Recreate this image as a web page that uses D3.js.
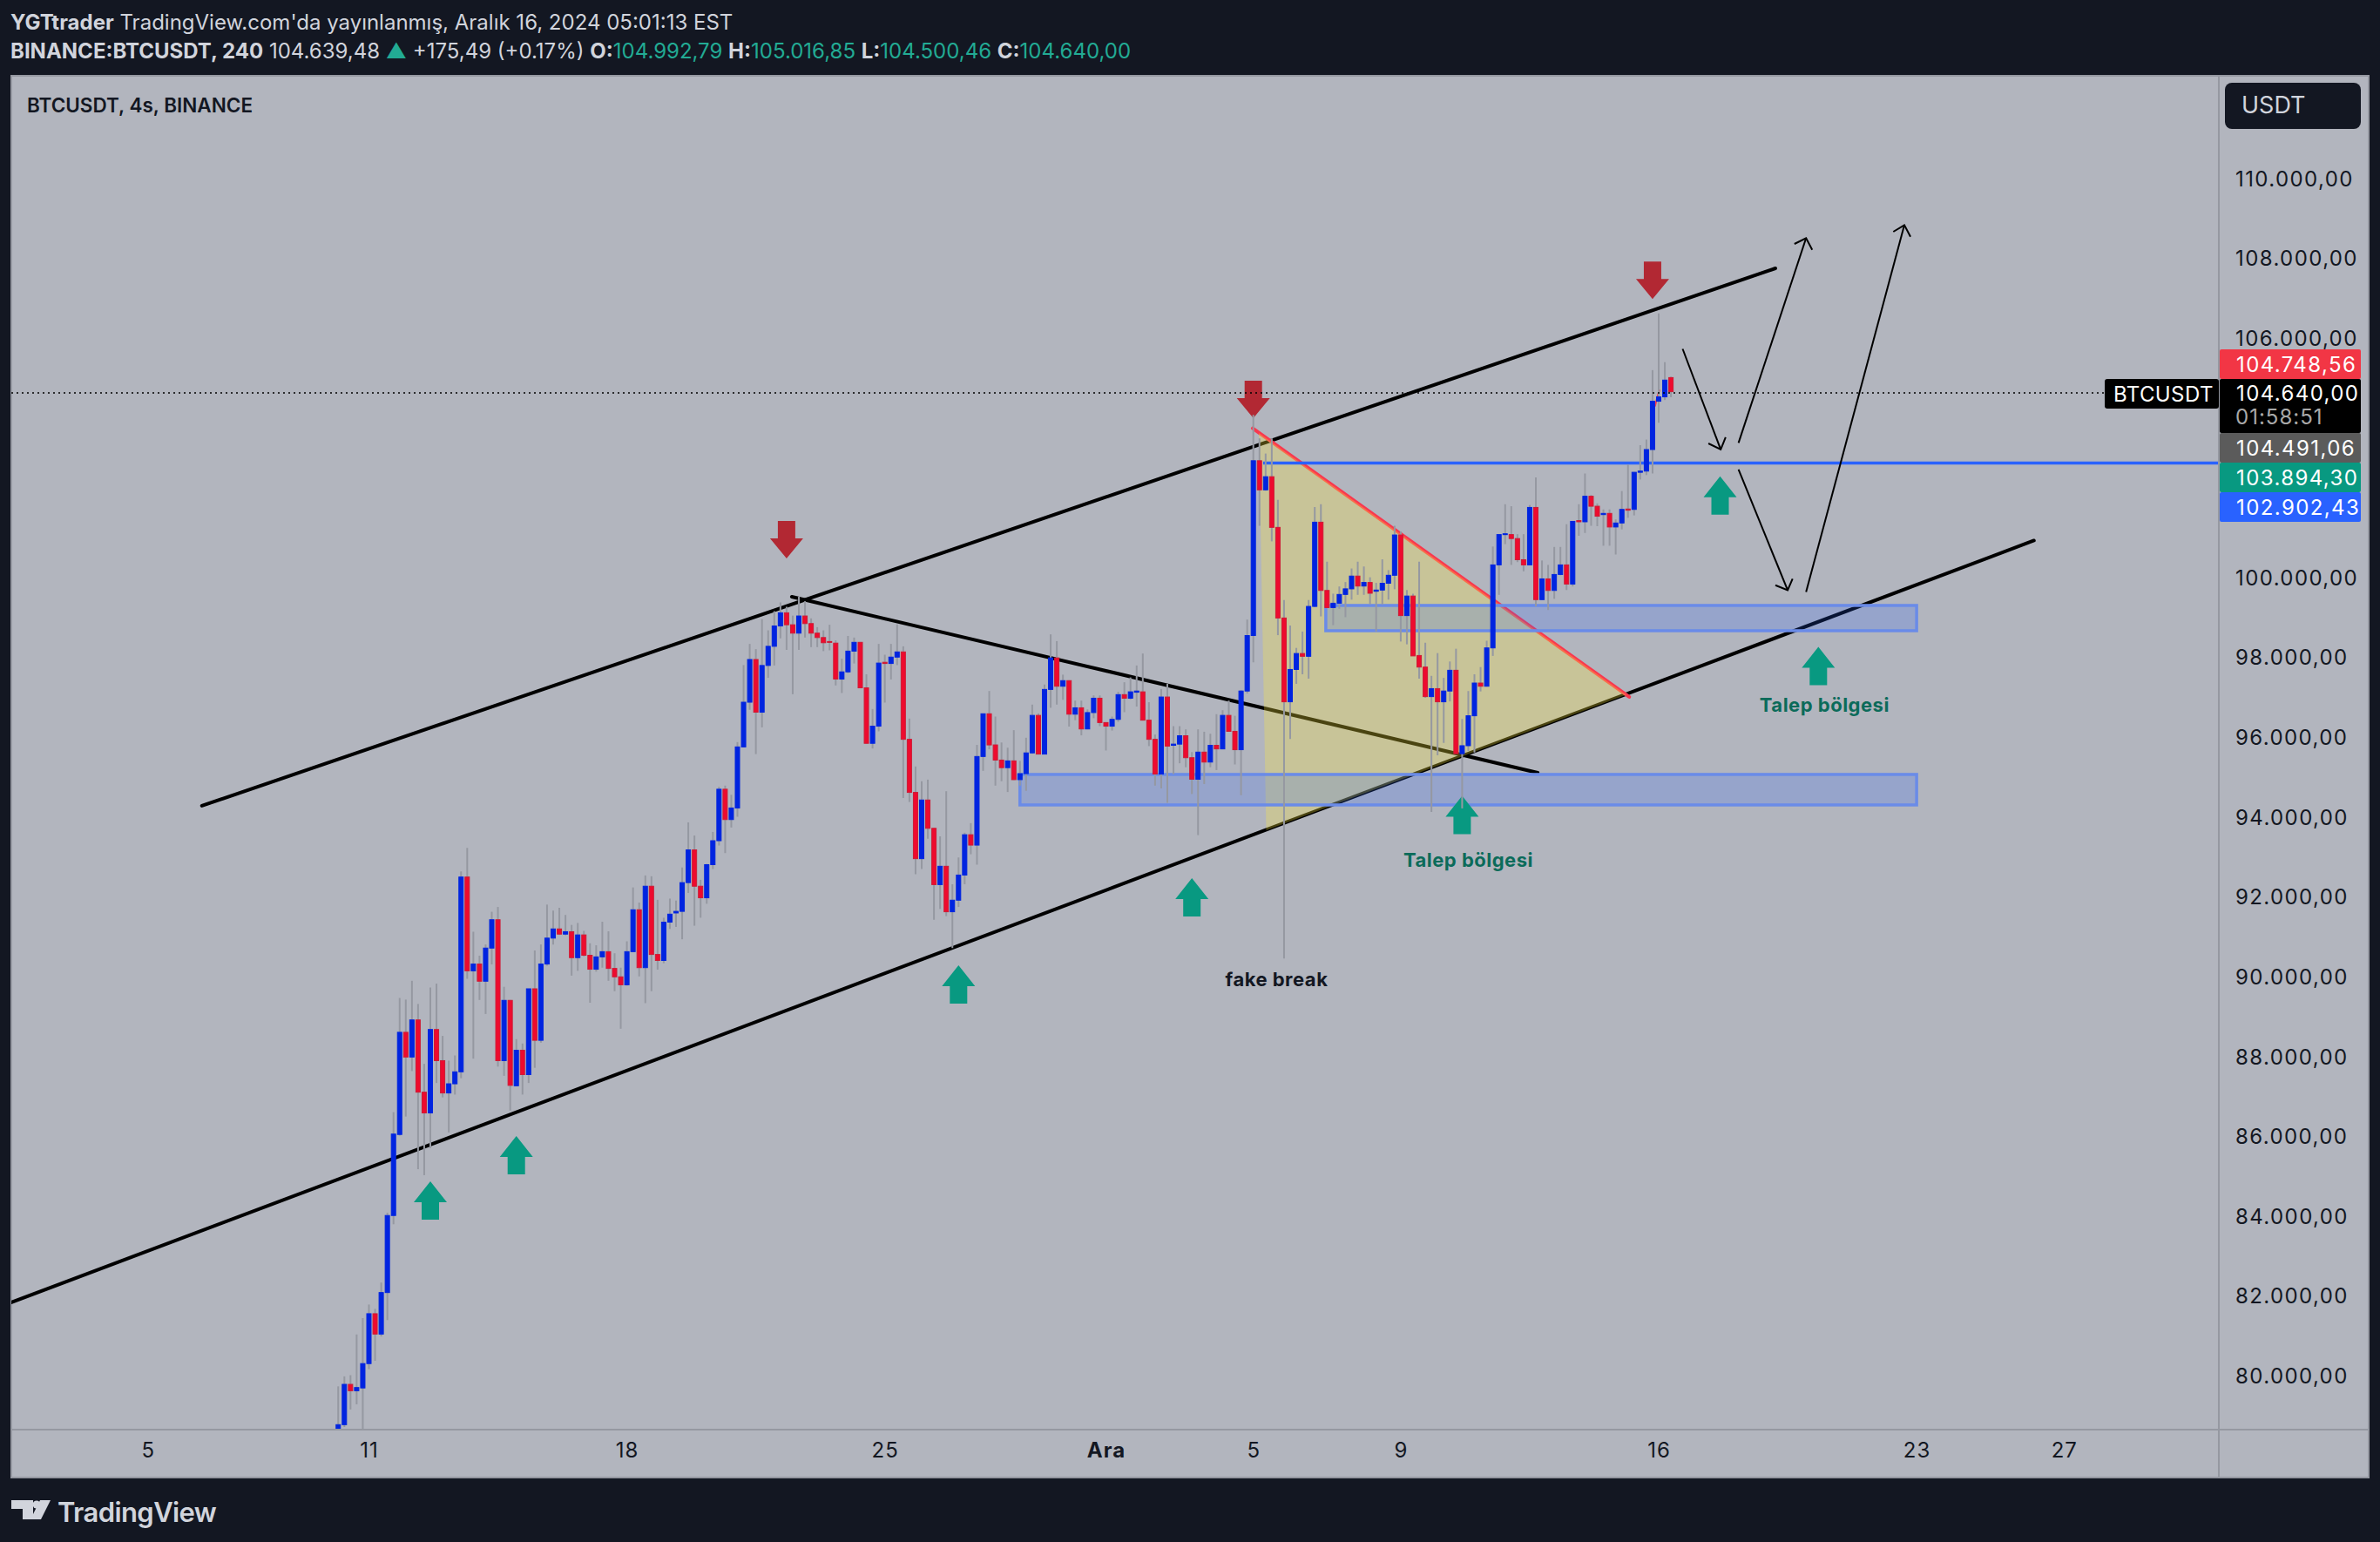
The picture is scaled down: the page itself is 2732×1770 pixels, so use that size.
<!DOCTYPE html>
<html>
<head>
<meta charset="utf-8">
<script src="https://cdn.jsdelivr.net/npm/d3@7/dist/d3.min.js"></script>
<style>
  html, body { margin: 0; padding: 0; background: #131722; }
  svg { display: block; font-family: Inter, "Noto Sans", sans-serif; }
</style>
</head>
<body>
<svg id="chart" width="2732" height="1770"></svg>
<script>
// 4h candles, one value per bar
const opens = [
  78500,78760,79770,79610,79680,80290,81540,81030,82070,84000,
  86030,88590,87970,88900,87090,86570,88660,87880,87070,87300,
  87600,92480,90130,90300,89870,90700,91410,87880,89390,87250,
  88140,87530,89680,88390,90300,90950,91180,91050,91110,90460,
  91030,90520,90170,90480,90610,90190,89980,89780,90610,91660,
  90210,92250,90540,90390,91350,91580,91620,92340,93160,92250,
  91960,92790,93390,94680,93920,94210,95740,96860,97930,96610,
  97780,98260,98770,99100,98800,98590,99020,98830,98590,98480,
  98380,98340,97440,97620,98140,98360,97220,95830,96260,97860,
  97830,97990,98120,95930,94600,92940,94410,93700,92290,92750,
  91610,91900,92530,93540,93280,95500,96570,95790,95410,95220,
  95390,94920,95070,95590,96530,95560,97180,97970,97260,97400,
  96560,96720,96190,96600,96960,96350,96260,96430,97050,96960,
  97110,97120,96410,95930,95060,96990,95780,95810,96020,95470,
  94930,95610,95360,95780,95690,96530,96130,95670,97140,98530,
  102910,102180,102510,101240,98970,96870,97680,98080,98010,99260,
  101370,99660,99230,99340,99560,99700,100020,99770,99860,99640,
  99670,99840,100040,101050,99030,99520,98030,97740,97000,97200,
  96870,97140,97660,95570,95770,96520,97340,97260,98220,100300,
  101060,101060,100960,100430,100300,101740,99430,99950,99660,100060,
  100300,99820,101410,101380,102020,101770,101560,101590,101250,101350,
  101700,101690,102620,102650,103190,104400,104510,104992.79
];
const highs = [
  79720,79970,80000,81020,81430,81770,81660,82320,84070,86590,
  89450,89410,89880,89300,87800,89710,89810,88500,87880,88010,
  92620,93210,91110,90510,90790,91610,91730,89730,89400,88420,
  88310,89680,90640,90790,91790,91640,91710,91530,91280,91330,
  91130,90820,90770,91360,91120,90570,90210,90870,92220,91840,
  92520,92500,91910,91460,91940,91890,92720,93850,93520,92410,
  92810,93610,94740,94770,94540,95860,97790,98320,98190,98940,
  98660,99140,99360,99250,99030,99500,99390,98960,98740,98660,
  98800,98410,97950,98520,98480,98370,97560,96690,98320,98050,
  98320,98810,98260,96450,95250,94880,94920,93710,93500,94630,
  92300,92970,93590,93830,95790,96580,97140,96500,95850,95720,
  96160,95390,95970,96800,96580,97300,98560,98390,97550,97410,
  96900,96900,96680,97030,97030,96360,96500,97120,97360,97480,
  97780,98080,96860,96050,97190,97320,96260,96260,96180,95610,
  96180,96120,96070,96560,96660,96900,96520,97160,98930,104060,
  103470,103090,103470,101930,99420,98780,98220,98630,99420,101750,
  101820,100380,99580,99760,99870,100210,100380,100260,99990,99850,
  100440,100170,101280,101140,99670,99580,100380,98350,97520,98090,
  97470,97880,98200,96440,97140,97560,97740,98400,100760,101070,
  101820,101770,101070,101070,101800,102490,100410,100300,100750,100750,
  101320,101400,101820,102590,102050,101840,101690,101690,101440,102150,
  102810,102630,103300,103440,105180,106600,105380,105016.85
];
const lows = [
  78280,78700,79140,79270,78400,80150,80360,80970,81380,83780,
  86000,86480,87620,85160,85010,85690,87320,86960,86080,87030,
  87440,89930,87930,89400,89050,90290,87730,87500,86630,87240,
  87030,87320,87700,88330,90260,90790,91030,91020,90010,90130,
  90490,89330,90110,90210,89880,89620,88680,89760,90600,89990,
  89320,89620,90160,90320,91180,91230,90920,92080,91260,91460,
  91810,92680,93270,93080,93720,93990,95730,96670,95560,96230,
  97470,97780,98460,98170,97060,98170,98480,98240,98240,98140,
  98160,97280,97090,97590,97830,97210,95820,95700,96130,96850,
  97430,97790,94460,94360,92550,92680,93440,91410,91680,91500,
  90700,91730,92300,93050,92790,95140,95680,94770,94880,94610,
  94910,94770,94640,95570,95550,95550,96720,96800,96920,96250,
  96410,96030,96180,96460,96260,95650,96150,96370,96610,96930,
  96750,96400,95760,94770,94700,94340,95060,95330,95230,94560,
  93530,94810,95230,95160,95680,96120,95300,94530,97080,97860,
  101280,102160,100890,98540,90440,95940,97320,97560,97450,99240,
  99010,99220,98790,99200,98990,99430,99550,99550,99310,98630,
  99310,99430,99690,98380,98310,98020,97450,96970,94110,95530,
  95840,96880,95570,94200,95640,95600,97130,97250,98020,99550,
  100820,100300,100370,100140,100290,99260,99420,99170,99450,100040,
  99670,99760,101030,101100,101280,101270,100780,100780,100560,101190,
  101480,101540,102440,102550,102590,103860,104430,104500.46
];
const closes = [
  78760,79770,79610,79690,80290,81540,81030,82070,84000,86040,
  88590,87970,88900,87090,86570,88660,87880,87070,87300,87600,
  92480,90130,90300,89870,90700,91410,87880,89390,87260,88140,
  87530,89680,88390,90300,90950,91180,91050,91110,90460,91030,
  90520,90170,90480,90610,90190,89980,89780,90610,91660,90210,
  92250,90540,90390,91350,91550,91620,92340,93160,92250,91960,
  92790,93390,94680,93920,94210,95740,96860,97930,96610,97780,
  98260,98770,99100,98800,98590,99020,98830,98590,98480,98350,
  98360,97440,97620,98140,98360,97220,95830,96260,97840,97830,
  97990,98120,95930,94600,92940,94410,93700,92290,92750,91610,
  91900,92530,93540,93280,95500,96570,95790,95410,95220,95390,
  94920,95070,95590,96530,95560,97180,97970,97260,97400,96560,
  96720,96190,96600,96960,96350,96260,96430,97050,96960,97120,
  97140,96410,95930,95060,96990,95760,95810,96020,95470,94930,
  95610,95360,95780,95690,96530,96130,95670,97140,98530,102910,
  102180,102510,101240,98970,96870,97680,98080,98010,99260,101370,
  99660,99230,99340,99560,99700,100020,99770,99860,99590,99670,
  99840,100040,101050,99030,99520,98020,97740,97000,97200,96870,
  97140,97660,95570,95770,96520,97340,97260,98220,100300,101060,
  101080,100960,100430,100300,101740,99430,99950,99660,100060,100300,
  99820,101390,101380,102020,101770,101520,101590,101250,101350,101690,
  101670,102620,102650,103190,104400,104510,104930,104640
];

// axis labels
const priceTicks = [80000,82000,84000,86000,88000,90000,92000,94000,96000,98000,100000,106000,108000,110000];
const timeTickBars = [-31,5,47,89,125,149,173,215,257,281];
const timeTickLabels = ["5","11","18","25","Ara","5","9","16","23","27"];

// price tags on the right edge: value, colour
const tagValues = ["104.748,56","104.491,06","103.894,30","102.902,43"];
const tagColors = ["#f23645","#5b5b5b","#089981","#2962ff"];

// drawings, as [bar, price]
const channelTop = [[-22.2,94264],[234,107730]];
const channelBottom = [[-53.2,81824],[276.1,100910]];
const fallingLine = [[73.85,99502],[195.3,95093]];
const redLine = [[148.9,103723],[210.2,96992]];
const redTick = [[214.4,104282],[215.1,104675]];
const triangle = [[149.9,103605],[151.1,93653],[209.7,97047]];
const zoneLow = [[111,95050],[257,94286]];
const zoneHigh = [[160.8,99284],[257,98651]];
const levelLine = 102850;
const levelStart = 150.6;
const lastPrice = 104610;

const thinPaths = [
  [[218.9,105711],[225.1,103191]],
  [[223.1,103343],[225.1,103191],[225.9,103496]],
  [[228,103356],[239,108488]],
  [[237.1,108341],[239,108488],[240,108195]],
  [[228,102689],[236,99666]],
  [[234,99790],[236,99666],[236.8,99950]],
  [[239,99622],[255,108815]],
  [[253.2,108647],[255,108815],[256,108522]],
];

const upBars = [15,29,101,139,183,225,241];
const upPrices = [84857,85993,90270,92452,94513,102520,98245];
const downBars = [73,149,214];
const downPrices = [100463,103976,106960];

const noteLabels = ["Talep bölgesi","Talep bölgesi","fake break"];
const noteBars = [184,242,152.8];
const notePrices = [92870,96745,89880];
const noteColors = ["#0b6b5a","#0b6b5a","#131722"];

const W = 2732, H = 1770;
const plotLeft = 13, plotRight = 2546, plotTop = 87, plotBottom = 1640;
const panelRight = 2719, panelBottom = 1696;

const svg = d3.select("#chart");

svg.append("rect").attr("width", W).attr("height", H).attr("fill", "#131722");
svg.append("rect")
  .attr("x", plotLeft).attr("y", plotTop)
  .attr("width", panelRight - plotLeft).attr("height", panelBottom - plotTop)
  .attr("fill", "#b2b5be").attr("stroke", "#9598a1").attr("stroke-width", 2);

const x = d3.scaleLinear().domain([0, 217]).range([388.25, 388.25 + 7.05 * 217]);
const y = d3.scaleLinear().domain([110000, 80000]).range([204, 1578.5]);
const line = d3.line().x(d => x(d[0])).y(d => y(d[1]));

svg.append("defs").append("clipPath").attr("id", "plot")
  .append("rect").attr("x", plotLeft).attr("y", plotTop)
  .attr("width", plotRight - plotLeft).attr("height", plotBottom - plotTop);

const plot = svg.append("g").attr("clip-path", "url(#plot)");

// drawings go under the candles
function trend(pts, color, w) {
  plot.append("path").attr("d", line(pts))
    .attr("fill", "none").attr("stroke", color)
    .attr("stroke-width", w).attr("stroke-linecap", "round");
}
trend(channelTop, "#000", 4);
trend(channelBottom, "#000", 4);
trend(fallingLine, "#000", 4);
trend(redLine, "#f8384f", 4);
trend(redTick, "#f8384f", 2);

plot.append("path").attr("d", line(triangle) + "Z")
  .attr("fill", "rgba(255,235,59,0.29)");

plot.selectAll("rect.zone").data([zoneLow, zoneHigh]).join("rect")
  .attr("class", "zone")
  .attr("x", d => x(d[0][0])).attr("y", d => y(d[0][1]))
  .attr("width", d => x(d[1][0]) - x(d[0][0]))
  .attr("height", d => y(d[1][1]) - y(d[0][1]))
  .attr("fill", "rgba(41,98,255,0.2)")
  .attr("stroke", "#6a8be8").attr("stroke-width", 3.5);

plot.append("line")
  .attr("x1", x(levelStart)).attr("x2", plotRight)
  .attr("y1", y(levelLine)).attr("y2", y(levelLine))
  .attr("stroke", "#2962ff").attr("stroke-width", 3.5);

plot.selectAll("path.thin").data(thinPaths).join("path")
  .attr("class", "thin").attr("d", line)
  .attr("fill", "none").attr("stroke", "#000").attr("stroke-width", 2);

// block arrows, sizes in px from the apex
const upShape = "M0,0L19,24L10,24L10,44L-10,44L-10,24L-19,24Z";
const downShape = "M0,0L19,-23L10,-23L10,-43L-10,-43L-10,-23L-19,-23Z";
plot.selectAll("path.up").data(upBars).join("path")
  .attr("class", "up").attr("d", upShape).attr("fill", "#089981")
  .attr("transform", (d, i) => `translate(${x(d)},${y(upPrices[i])})`);
plot.selectAll("path.down").data(downBars).join("path")
  .attr("class", "down").attr("d", downShape).attr("fill", "#b22833")
  .attr("transform", (d, i) => `translate(${x(d)},${y(downPrices[i])})`);

plot.selectAll("text.note").data(noteLabels).join("text")
  .attr("class", "note")
  .attr("x", (d, i) => x(noteBars[i])).attr("y", (d, i) => y(notePrices[i]))
  .attr("text-anchor", "middle").attr("dominant-baseline", "middle")
  .attr("font-size", 22).attr("font-weight", 700).attr("letter-spacing", 0.5)
  .attr("fill", (d, i) => noteColors[i]).text(d => d);

// candles
const bars = d3.range(closes.length);
plot.selectAll("line.wick").data(bars).join("line")
  .attr("class", "wick")
  .attr("x1", d => x(d)).attr("x2", d => x(d))
  .attr("y1", d => y(highs[d])).attr("y2", d => y(lows[d]))
  .attr("stroke", "#9598a1").attr("stroke-width", 2);
plot.selectAll("rect.body").data(bars).join("rect")
  .attr("class", "body")
  .attr("x", d => x(d) - 2.5)
  .attr("y", d => y(Math.max(opens[d], closes[d])))
  .attr("width", 5)
  .attr("height", d => Math.max(1, Math.abs(y(opens[d]) - y(closes[d]))))
  .attr("fill", d => closes[d] >= opens[d] ? "#0024e0" : "#ee0a2e")
  .attr("stroke", d => closes[d] >= opens[d] ? "#0024e0" : "#cf1a34");

// dotted last price line
plot.append("line")
  .attr("x1", plotLeft).attr("x2", plotRight)
  .attr("y1", y(lastPrice)).attr("y2", y(lastPrice))
  .attr("stroke", "#000").attr("stroke-width", 1.5)
  .attr("stroke-dasharray", "2 4");

// axes
svg.append("line").attr("x1", plotRight + 1).attr("x2", plotRight + 1)
  .attr("y1", plotTop).attr("y2", panelBottom)
  .attr("stroke", "#9598a1").attr("stroke-width", 2);
svg.append("line").attr("x1", plotLeft).attr("x2", panelRight)
  .attr("y1", plotBottom + 1).attr("y2", plotBottom + 1)
  .attr("stroke", "#9598a1").attr("stroke-width", 2);

const trLocale = d3.formatLocale({ decimal: ",", thousands: ".", grouping: [3], currency: ["", ""] });
const priceFormat = trLocale.format(",.2f");

const yAxis = d3.axisRight(y).tickValues(priceTicks).tickSize(0).tickPadding(20).tickFormat(priceFormat);
const yG = svg.append("g").attr("transform", `translate(${plotRight},0)`).call(yAxis);
yG.select(".domain").remove();
yG.selectAll("text").attr("font-size", 24).attr("font-family", "Inter").attr("fill", "#131722")
  .attr("letter-spacing", 1.4).attr("dy", "0.38em");

const xAxis = d3.axisBottom(x).tickValues(timeTickBars).tickSize(0).tickPadding(16)
  .tickFormat((d, i) => timeTickLabels[i]);
const xG = svg.append("g").attr("transform", `translate(0,${plotBottom})`).call(xAxis);
xG.select(".domain").remove();
xG.selectAll("text").attr("font-size", 24).attr("font-family", "Inter").attr("fill", "#131722")
  .attr("letter-spacing", 1)
  .attr("font-weight", (d, i) => timeTickLabels[i] === "Ara" ? 700 : 400);

// USDT box
svg.append("rect").attr("x", 2554).attr("y", 95).attr("width", 156).attr("height", 53)
  .attr("rx", 8).attr("fill", "#131722");
svg.append("text").attr("x", 2573).attr("y", 130).attr("font-size", 27)
  .attr("fill", "#d1d4dc").text("USDT");

// price tags
const tagY = [401, 497, 531, 565];
svg.selectAll("rect.tag").data(tagValues).join("rect")
  .attr("class", "tag").attr("x", 2548).attr("y", (d, i) => tagY[i])
  .attr("width", 162).attr("height", 34).attr("rx", 2)
  .attr("fill", (d, i) => tagColors[i]);
svg.selectAll("text.tag").data(tagValues).join("text")
  .attr("class", "tag").attr("x", 2567).attr("y", (d, i) => tagY[i] + 17)
  .attr("dominant-baseline", "central").attr("font-size", 24).attr("fill", "#fff")
  .attr("letter-spacing", 1.4).text(d => d);

svg.append("rect").attr("x", 2548).attr("y", 435).attr("width", 162).attr("height", 62)
  .attr("rx", 2).attr("fill", "#000");
svg.append("text").attr("x", 2567).attr("y", 451).attr("dominant-baseline", "central")
  .attr("font-size", 24).attr("fill", "#fff").attr("letter-spacing", 1.4)
  .text(priceFormat(closes[closes.length - 1]));
svg.append("text").attr("x", 2566).attr("y", 478).attr("dominant-baseline", "central")
  .attr("font-size", 24).attr("fill", "#a9a9a9").attr("letter-spacing", 1).text("01:58:51");

svg.append("rect").attr("x", 2416).attr("y", 435).attr("width", 131).attr("height", 34)
  .attr("rx", 3).attr("fill", "#000");
svg.append("text").attr("x", 2426).attr("y", 452).attr("dominant-baseline", "central")
  .attr("font-size", 24).attr("fill", "#fff").attr("letter-spacing", 0.4).text("BTCUSDT");

// header lines
const title = svg.append("text").attr("x", 12).attr("y", 25)
  .attr("dominant-baseline", "central").attr("font-size", 24).attr("fill", "#d1d4dc");
title.append("tspan").attr("font-weight", 700).text("YGTtrader");
title.append("tspan").text(" TradingView.com'da yayınlanmış, Aralık 16, 2024 05:01:13 EST");

const info = svg.append("text").attr("x", 12).attr("y", 58)
  .attr("dominant-baseline", "central").attr("font-size", 24).attr("fill", "#d1d4dc");
info.append("tspan").attr("font-weight", 700).text("BINANCE:BTCUSDT, 240");
info.append("tspan").text(" 104.639,48 ");
info.append("tspan").attr("fill", "#22ab94").text("▲");
info.append("tspan").text(" +175,49 (+0.17%) ");
[["O:", "104.992,79"], ["H:", "105.016,85"], ["L:", "104.500,46"], ["C:", "104.640,00"]].forEach(p => {
  info.append("tspan").attr("font-weight", 700).text(p[0]);
  info.append("tspan").attr("fill", "#22ab94").text(p[1] + " ");
});

svg.append("text").attr("x", 31).attr("y", 120)
  .attr("dominant-baseline", "central").attr("font-size", 22.5).attr("font-weight", 600)
  .attr("fill", "#131722").text("BTCUSDT, 4s, BINANCE");

// logo
const logo = svg.append("g").attr("fill", "#d1d4dc");
logo.append("path").attr("d", "M13,1722H38V1744H26V1732H13Z");
logo.append("circle").attr("cx", 42).attr("cy", 1727).attr("r", 4.5);
logo.append("path").attr("d", "M46,1722H58L47,1744H35Z");
logo.append("text").attr("x", 66).attr("y", 1735).attr("dominant-baseline", "central")
  .attr("font-size", 31).attr("font-weight", 600).attr("letter-spacing", -0.6).text("TradingView");
</script>
</body>
</html>
